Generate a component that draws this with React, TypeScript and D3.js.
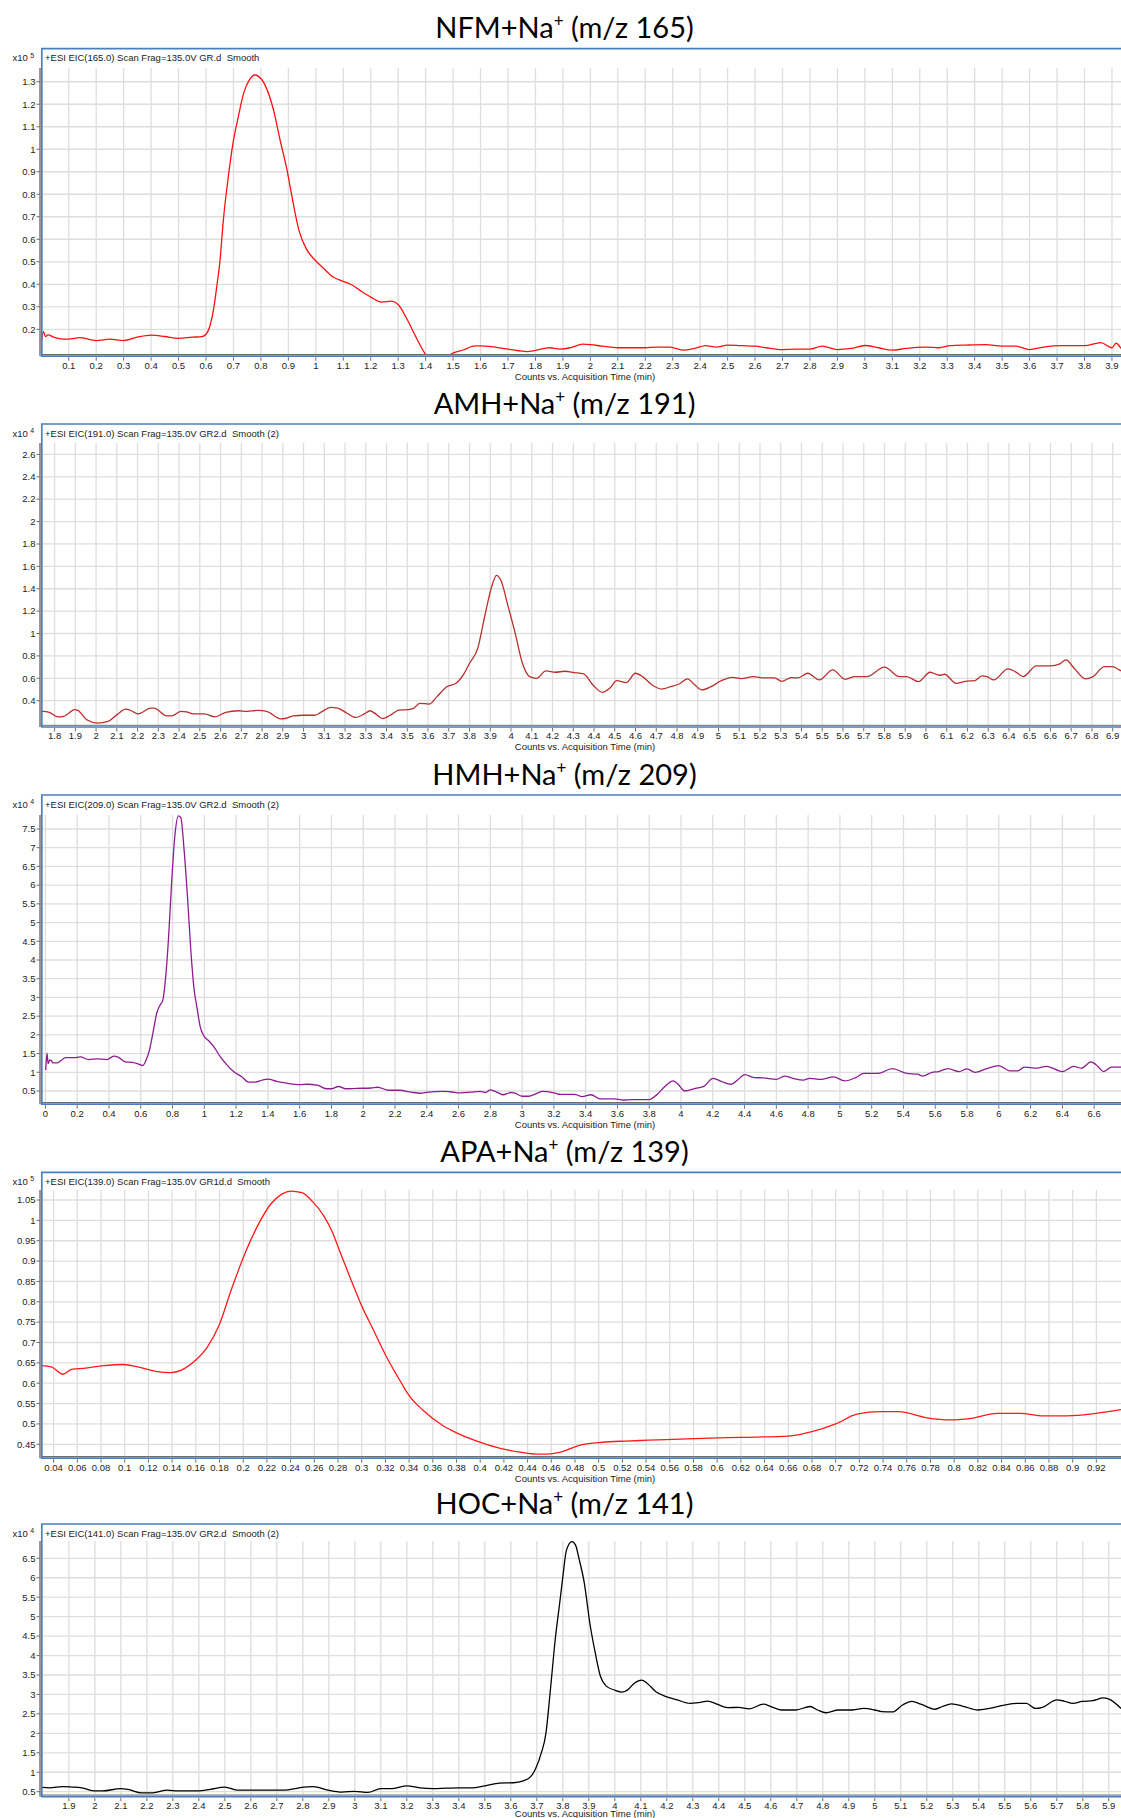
import React from 'react';
import * as d3 from 'd3';

// ---------------- data ----------------
const nfmTime = [0.0, 0.008, 0.015, 0.025, 0.045, 0.07, 0.1, 0.14, 0.2, 0.25, 0.3, 0.35, 0.4, 0.45, 0.5, 0.55, 0.584, 0.6, 0.615, 0.627, 0.639, 0.651, 0.663, 0.681, 0.7, 0.716, 0.737, 0.759, 0.778, 0.79, 0.815, 0.846, 0.87, 0.895, 0.913, 0.938, 0.966, 0.996, 1.027, 1.063, 1.1, 1.13, 1.167, 1.202, 1.239, 1.276, 1.3, 1.33, 1.367, 1.4, 1.42, 1.46, 1.49, 1.537, 1.58, 1.6, 1.7, 1.77, 1.8, 1.85, 1.89, 1.927, 1.972, 2.0, 2.044, 2.1, 2.2, 2.24, 2.29, 2.34, 2.38, 2.42, 2.46, 2.5, 2.55, 2.6, 2.64, 2.69, 2.75, 2.8, 2.845, 2.9, 2.95, 3.0, 3.05, 3.1, 3.15, 3.22, 3.27, 3.31, 3.37, 3.44, 3.5, 3.55, 3.6, 3.65, 3.72, 3.8, 3.86, 3.9, 3.915, 3.933];
const nfmCounts = [0.139, 0.19, 0.168, 0.175, 0.165, 0.157, 0.156, 0.163, 0.15, 0.156, 0.15, 0.165, 0.174, 0.168, 0.16, 0.165, 0.167, 0.178, 0.218, 0.285, 0.388, 0.506, 0.683, 0.876, 1.039, 1.135, 1.248, 1.31, 1.33, 1.325, 1.285, 1.174, 1.04, 0.908, 0.79, 0.642, 0.556, 0.509, 0.472, 0.432, 0.413, 0.398, 0.368, 0.342, 0.321, 0.325, 0.31, 0.25, 0.16, 0.088, 0.06, 0.06, 0.088, 0.108, 0.126, 0.126, 0.112, 0.101, 0.106, 0.118, 0.112, 0.118, 0.134, 0.132, 0.125, 0.118, 0.118, 0.121, 0.121, 0.107, 0.115, 0.127, 0.121, 0.13, 0.127, 0.125, 0.118, 0.11, 0.112, 0.112, 0.125, 0.11, 0.115, 0.128, 0.118, 0.107, 0.115, 0.121, 0.118, 0.127, 0.13, 0.132, 0.125, 0.125, 0.11, 0.121, 0.127, 0.127, 0.141, 0.118, 0.138, 0.115];

const amhTime = [1.736, 1.748, 1.774, 1.817, 1.843, 1.87, 1.895, 1.912, 1.955, 2.007, 2.058, 2.1, 2.143, 2.16, 2.203, 2.264, 2.28, 2.34, 2.366, 2.41, 2.436, 2.47, 2.522, 2.573, 2.625, 2.685, 2.727, 2.779, 2.822, 2.89, 2.916, 2.95, 3.0, 3.053, 3.087, 3.13, 3.165, 3.208, 3.25, 3.295, 3.32, 3.346, 3.38, 3.414, 3.46, 3.5, 3.527, 3.56, 3.605, 3.643, 3.69, 3.735, 3.77, 3.8, 3.84, 3.873, 3.907, 3.93, 3.95, 3.986, 4.02, 4.055, 4.09, 4.123, 4.168, 4.214, 4.26, 4.305, 4.35, 4.395, 4.44, 4.475, 4.51, 4.555, 4.6, 4.634, 4.68, 4.725, 4.77, 4.81, 4.85, 4.886, 4.92, 4.964, 5.01, 5.066, 5.11, 5.168, 5.225, 5.27, 5.305, 5.35, 5.384, 5.43, 5.486, 5.55, 5.611, 5.657, 5.714, 5.8, 5.873, 5.907, 5.964, 6.02, 6.066, 6.09, 6.145, 6.19, 6.236, 6.27, 6.293, 6.327, 6.395, 6.43, 6.468, 6.532, 6.6, 6.645, 6.675, 6.714, 6.77, 6.805, 6.86, 6.895, 6.94];
const amhCounts = [0.305, 0.305, 0.296, 0.255, 0.26, 0.29, 0.32, 0.313, 0.23, 0.2, 0.215, 0.273, 0.324, 0.318, 0.282, 0.333, 0.333, 0.265, 0.265, 0.305, 0.3, 0.282, 0.282, 0.255, 0.296, 0.31, 0.305, 0.313, 0.305, 0.237, 0.243, 0.265, 0.27, 0.27, 0.3, 0.34, 0.333, 0.29, 0.25, 0.284, 0.31, 0.284, 0.24, 0.265, 0.316, 0.32, 0.328, 0.376, 0.37, 0.436, 0.525, 0.555, 0.63, 0.734, 0.869, 1.152, 1.42, 1.519, 1.48, 1.242, 1.003, 0.734, 0.615, 0.6, 0.666, 0.654, 0.663, 0.651, 0.639, 0.54, 0.475, 0.51, 0.579, 0.561, 0.645, 0.615, 0.54, 0.504, 0.525, 0.549, 0.594, 0.54, 0.496, 0.525, 0.576, 0.609, 0.597, 0.615, 0.603, 0.603, 0.573, 0.606, 0.603, 0.645, 0.585, 0.675, 0.591, 0.615, 0.615, 0.699, 0.615, 0.615, 0.57, 0.654, 0.627, 0.636, 0.555, 0.573, 0.579, 0.621, 0.615, 0.585, 0.684, 0.66, 0.615, 0.711, 0.711, 0.729, 0.764, 0.69, 0.594, 0.615, 0.705, 0.705, 0.666];

const hmhTime = [0.002, 0.01, 0.017, 0.027, 0.036, 0.048, 0.073, 0.094, 0.126, 0.178, 0.22, 0.272, 0.325, 0.387, 0.43, 0.46, 0.502, 0.555, 0.586, 0.613, 0.634, 0.655, 0.68, 0.701, 0.722, 0.739, 0.753, 0.774, 0.795, 0.816, 0.837, 0.852, 0.873, 0.894, 0.915, 0.936, 0.953, 0.974, 0.999, 1.026, 1.058, 1.1, 1.142, 1.184, 1.236, 1.278, 1.32, 1.37, 1.4, 1.456, 1.52, 1.6, 1.645, 1.71, 1.767, 1.8, 1.845, 1.89, 1.96, 2.05, 2.09, 2.16, 2.23, 2.3, 2.36, 2.41, 2.5, 2.545, 2.61, 2.68, 2.735, 2.77, 2.8, 2.85, 2.88, 2.93, 2.95, 3.0, 3.04, 3.09, 3.13, 3.2, 3.242, 3.33, 3.378, 3.434, 3.49, 3.58, 3.634, 3.69, 3.8, 3.845, 3.9, 3.95, 3.977, 4.023, 4.09, 4.146, 4.2, 4.257, 4.313, 4.36, 4.4, 4.46, 4.52, 4.6, 4.65, 4.71, 4.77, 4.81, 4.88, 4.96, 5.03, 5.1, 5.15, 5.24, 5.33, 5.42, 5.49, 5.52, 5.58, 5.62, 5.68, 5.75, 5.8, 5.85, 5.92, 6.0, 6.07, 6.12, 6.16, 6.24, 6.3, 6.4, 6.47, 6.52, 6.58, 6.61, 6.66, 6.71, 6.769];
const hmhCounts = [1.06, 1.51, 1.23, 1.33, 1.32, 1.25, 1.25, 1.3, 1.39, 1.39, 1.41, 1.34, 1.36, 1.34, 1.43, 1.4, 1.28, 1.26, 1.22, 1.18, 1.33, 1.6, 2.13, 2.59, 2.8, 2.93, 3.38, 4.53, 6.13, 7.38, 7.85, 7.8, 6.93, 5.69, 4.26, 3.2, 2.75, 2.22, 1.96, 1.85, 1.69, 1.42, 1.2, 1.02, 0.88, 0.74, 0.74, 0.8, 0.82, 0.76, 0.71, 0.67, 0.68, 0.66, 0.56, 0.56, 0.62, 0.56, 0.57, 0.58, 0.6, 0.52, 0.52, 0.47, 0.44, 0.47, 0.49, 0.48, 0.45, 0.47, 0.49, 0.46, 0.53, 0.45, 0.4, 0.46, 0.45, 0.36, 0.36, 0.43, 0.49, 0.45, 0.41, 0.41, 0.35, 0.4, 0.29, 0.29, 0.26, 0.27, 0.27, 0.39, 0.63, 0.77, 0.7, 0.5, 0.57, 0.63, 0.84, 0.75, 0.68, 0.81, 0.94, 0.86, 0.85, 0.81, 0.9, 0.83, 0.79, 0.84, 0.81, 0.88, 0.77, 0.86, 0.97, 0.97, 1.1, 0.97, 0.95, 0.9, 1.0, 1.02, 1.1, 1.02, 1.09, 1.0, 1.09, 1.18, 1.04, 1.04, 1.14, 1.11, 1.16, 1.02, 1.16, 1.11, 1.28, 1.21, 1.02, 1.14, 1.14];

const apaTime = [0.0296, 0.038, 0.048, 0.055, 0.067, 0.082, 0.099, 0.111, 0.126, 0.139, 0.151, 0.16, 0.17, 0.18, 0.19, 0.2027, 0.2117, 0.2238, 0.2329, 0.24, 0.2495, 0.2585, 0.2676, 0.2751, 0.2811, 0.29, 0.3, 0.31, 0.32, 0.334, 0.339, 0.352, 0.369, 0.381, 0.396, 0.417, 0.435, 0.447, 0.456, 0.467, 0.483, 0.503, 0.523, 0.542, 0.581, 0.62, 0.66, 0.68, 0.7, 0.718, 0.738, 0.753, 0.777, 0.797, 0.817, 0.836, 0.856, 0.875, 0.895, 0.92, 0.9408];
const apaCounts = [0.643, 0.64, 0.622, 0.634, 0.637, 0.643, 0.646, 0.64, 0.629, 0.626, 0.637, 0.657, 0.69, 0.745, 0.83, 0.927, 0.984, 1.042, 1.065, 1.072, 1.068, 1.046, 1.013, 0.972, 0.927, 0.861, 0.79, 0.73, 0.67, 0.598, 0.574, 0.533, 0.495, 0.477, 0.459, 0.44, 0.43, 0.426, 0.426, 0.43, 0.447, 0.455, 0.458, 0.46, 0.464, 0.467, 0.47, 0.481, 0.5, 0.524, 0.53, 0.53, 0.515, 0.51, 0.515, 0.526, 0.526, 0.52, 0.52, 0.526, 0.535];

const hocTime = [1.796, 1.827, 1.875, 1.91, 1.95, 2.0, 2.03, 2.1, 2.127, 2.18, 2.223, 2.278, 2.32, 2.4, 2.444, 2.5, 2.55, 2.59, 2.677, 2.73, 2.786, 2.84, 2.897, 2.95, 3.0, 3.05, 3.1, 3.145, 3.2, 3.25, 3.3, 3.35, 3.4, 3.45, 3.5, 3.557, 3.61, 3.648, 3.668, 3.682, 3.696, 3.717, 3.735, 3.751, 3.772, 3.788, 3.8, 3.814, 3.835, 3.849, 3.862, 3.883, 3.904, 3.925, 3.945, 3.966, 4.0, 4.027, 4.048, 4.075, 4.103, 4.124, 4.158, 4.2, 4.24, 4.29, 4.323, 4.358, 4.393, 4.434, 4.476, 4.517, 4.572, 4.6, 4.64, 4.696, 4.751, 4.78, 4.812, 4.86, 4.916, 4.957, 5.0, 5.026, 5.068, 5.107, 5.143, 5.177, 5.232, 5.26, 5.295, 5.343, 5.397, 5.44, 5.494, 5.549, 5.583, 5.618, 5.645, 5.7, 5.728, 5.762, 5.797, 5.838, 5.88, 5.907, 5.947];
const hocCounts = [0.61, 0.6, 0.63, 0.62, 0.6, 0.52, 0.52, 0.58, 0.56, 0.47, 0.47, 0.54, 0.52, 0.52, 0.56, 0.62, 0.54, 0.54, 0.54, 0.54, 0.6, 0.63, 0.54, 0.49, 0.51, 0.48, 0.58, 0.58, 0.65, 0.6, 0.58, 0.59, 0.6, 0.6, 0.65, 0.72, 0.73, 0.78, 0.84, 0.93, 1.1, 1.49, 2.0, 3.03, 4.49, 5.35, 6.02, 6.71, 6.93, 6.84, 6.5, 5.85, 4.83, 4.06, 3.46, 3.22, 3.11, 3.06, 3.11, 3.29, 3.37, 3.29, 3.07, 2.94, 2.86, 2.77, 2.79, 2.83, 2.75, 2.66, 2.67, 2.63, 2.75, 2.69, 2.6, 2.6, 2.69, 2.6, 2.53, 2.6, 2.6, 2.64, 2.6, 2.56, 2.55, 2.73, 2.82, 2.75, 2.62, 2.69, 2.76, 2.69, 2.6, 2.64, 2.72, 2.77, 2.77, 2.64, 2.67, 2.86, 2.83, 2.77, 2.82, 2.84, 2.91, 2.86, 2.64];

// tick values
const nfmYTicks = [0.2, 0.3, 0.4, 0.5, 0.6, 0.7, 0.8, 0.9, 1, 1.1, 1.2, 1.3];
const amhYTicks = [0.4, 0.6, 0.8, 1, 1.2, 1.4, 1.6, 1.8, 2, 2.2, 2.4, 2.6];
const hmhYTicks = [0.5, 1, 1.5, 2, 2.5, 3, 3.5, 4, 4.5, 5, 5.5, 6, 6.5, 7, 7.5];
const apaYTicks = [0.45, 0.5, 0.55, 0.6, 0.65, 0.7, 0.75, 0.8, 0.85, 0.9, 0.95, 1, 1.05];
const hocYTicks = [0.5, 1, 1.5, 2, 2.5, 3, 3.5, 4, 4.5, 5, 5.5, 6, 6.5];
const nfmXTicks = d3.range(1, 40).map((i) => i / 10);
const amhXTicks = d3.range(18, 70).map((i) => i / 10);
const hmhXTicks = d3.range(0, 34).map((i) => i / 5);
const apaXTicks = d3.range(2, 47).map((i) => i / 50);
const hocXTicks = d3.range(19, 60).map((i) => i / 10);

// titles and headers
const titles = ['NFM', 'AMH', 'HMH', 'APA', 'HOC'];
const mzValues = ['165', '191', '209', '139', '141'];
const headers = [
  '+ESI EIC(165.0) Scan Frag=135.0V GR.d  Smooth',
  '+ESI EIC(191.0) Scan Frag=135.0V GR2.d  Smooth (2)',
  '+ESI EIC(209.0) Scan Frag=135.0V GR2.d  Smooth (2)',
  '+ESI EIC(139.0) Scan Frag=135.0V GR1d.d  Smooth',
  '+ESI EIC(141.0) Scan Frag=135.0V GR2.d  Smooth (2)',
];
const exponents = ['5', '4', '4', '5', '4'];

// ---------------- layout & style ----------------
const W = 1121;
const H = 1818;
const PLOT_LEFT = 41.3;
const BLUE = '#4a7ebf';
const GRID = '#dedede';
const AXIS = '#6e6e6e';
const TXT = '#222';
const SMALL_FONT = "'Liberation Sans', Arial, sans-serif";
const TITLE_FONT = "Lato, 'Open Sans', sans-serif";

type Panel = {
  time: number[];
  counts: number[];
  xTicks: number[];
  yTicks: number[];
  xDomain: [number, number];
  yDomain: [number, number];
  color: string;
  frameTop: number;
  plotTop: number;
  axisY: number;
  xLabelGap: number;
};

const panels: Panel[] = [
  { time: nfmTime, counts: nfmCounts, xTicks: nfmXTicks, yTicks: nfmYTicks, xDomain: [0, 3.933], yDomain: [0.088, 1.361], color: '#ff1010', frameTop: 48.7, plotTop: 68, axisY: 354.5, xLabelGap: 25 },
  { time: amhTime, counts: amhCounts, xTicks: amhXTicks, yTicks: amhYTicks, xDomain: [1.736, 6.94], yDomain: [0.18, 2.702], color: '#b8302e', frameTop: 424, plotTop: 443, axisY: 725.3, xLabelGap: 25 },
  { time: hmhTime, counts: hmhCounts, xTicks: hmhXTicks, yTicks: hmhYTicks, xDomain: [-0.026, 6.769], yDomain: [0.193, 7.874], color: '#8e1c90', frameTop: 795, plotTop: 815, axisY: 1102.5, xLabelGap: 25 },
  { time: apaTime, counts: apaCounts, xTicks: apaXTicks, yTicks: apaYTicks, xDomain: [0.0296, 0.9408], yDomain: [0.42, 1.0746], color: '#ff1a1a', frameTop: 1172.3, plotTop: 1190, axisY: 1456.5, xLabelGap: 25 },
  { time: hocTime, counts: hocCounts, xTicks: hocXTicks, yTicks: hocYTicks, xDomain: [1.794, 5.947], yDomain: [0.415, 6.945], color: '#000000', frameTop: 1524, plotTop: 1541, axisY: 1795, xLabelGap: 21.5 },
];

const fmt = d3.format('~g');

function ChartPanel({ p, idx }: { p: Panel; idx: number }) {
  const x = d3.scaleLinear().domain(p.xDomain).range([PLOT_LEFT, W]);
  const y = d3.scaleLinear().domain(p.yDomain).range([p.axisY, p.plotTop]);
  const line = d3
    .line<number>()
    .x((_, i) => x(p.time[i]))
    .y((d) => y(d))
    .curve(d3.curveMonotoneX);
  const clipId = `clip-${idx}`;
  const titleX = 564.5;
  const frameBottom = p.axisY + 1.7;
  return (
    <g>
      {/* title */}
      <text x={titleX} y={p.frameTop - 10.5} textAnchor="middle" fontFamily={TITLE_FONT} fontSize={29} fill="#000">
        {titles[idx]}+Na
        <tspan dy={-11} fontSize={17}>+</tspan>
        <tspan dy={11}> (m/z {mzValues[idx]})</tspan>
      </text>
      {/* exponent label */}
      <text x={12.5} y={p.frameTop + 12.5} fontFamily={SMALL_FONT} fontSize={9.5} fill={TXT}>
        x10
        <tspan dx={2.5} dy={-3.5} fontSize={7}>{exponents[idx]}</tspan>
      </text>
      {/* header */}
      <text x={45} y={p.frameTop + 12.5} fontFamily={SMALL_FONT} fontSize={9.5} fill={TXT} style={{ whiteSpace: 'pre' }}>
        {headers[idx]}
      </text>
      {/* grid */}
      {p.yTicks.map((t) => (
        <line key={`gy${t}`} x1={PLOT_LEFT} x2={W} y1={y(t)} y2={y(t)} stroke={GRID} strokeWidth={1.3} />
      ))}
      {p.xTicks.map((t) => (
        <line key={`gx${t}`} x1={x(t)} x2={x(t)} y1={p.plotTop} y2={p.axisY} stroke={GRID} strokeWidth={1.3} />
      ))}
      {/* data line */}
      <clipPath id={clipId}>
        <rect x={PLOT_LEFT} y={p.plotTop - 2} width={W - PLOT_LEFT} height={p.axisY - p.plotTop + 2} />
      </clipPath>
      <path d={line(p.counts) || ''} fill="none" stroke={p.color} strokeWidth={1.3} clipPath={`url(#${clipId})`} />
      {/* y axis */}
      <line x1={40} x2={40} y1={p.plotTop} y2={frameBottom} stroke={AXIS} strokeWidth={1.4} />
      {p.yTicks.map((t) => (
        <g key={`yt${t}`}>
          <line x1={36.5} x2={40} y1={y(t)} y2={y(t)} stroke={AXIS} strokeWidth={1} />
          <text x={35.5} y={y(t) + 3.3} textAnchor="end" fontFamily={SMALL_FONT} fontSize={9.5} fill={TXT}>
            {fmt(t)}
          </text>
        </g>
      ))}
      {/* x axis */}
      <line x1={PLOT_LEFT} x2={W} y1={p.axisY} y2={p.axisY} stroke={AXIS} strokeWidth={1} />
      {p.xTicks.map((t) => (
        <g key={`xt${t}`}>
          <line x1={x(t)} x2={x(t)} y1={frameBottom + 1} y2={frameBottom + 4.5} stroke={AXIS} strokeWidth={1} />
          <text x={x(t)} y={p.axisY + 14} textAnchor="middle" fontFamily={SMALL_FONT} fontSize={9.5} fill={TXT}>
            {fmt(t)}
          </text>
        </g>
      ))}
      <text x={585} y={p.axisY + p.xLabelGap} textAnchor="middle" fontFamily={SMALL_FONT} fontSize={9.5} fill={TXT}>
        Counts vs. Acquisition Time (min)
      </text>
      {/* blue frame */}
      <path
        d={`M${W + 2},${p.frameTop}H${PLOT_LEFT + 0.5}V${frameBottom}H${W + 2}`}
        fill="none"
        stroke={BLUE}
        strokeWidth={1.7}
      />
    </g>
  );
}

export default function App() {
  return (
    <svg
      width={W}
      height={H}
      viewBox={`0 0 ${W} ${H}`}
      style={{ position: 'absolute', left: 0, top: 0, display: 'block', background: '#fff' }}
    >
      <rect x={0} y={0} width={W} height={H} fill="#fff" />
      {panels.map((p, i) => (
        <ChartPanel key={i} p={p} idx={i} />
      ))}
    </svg>
  );
}
